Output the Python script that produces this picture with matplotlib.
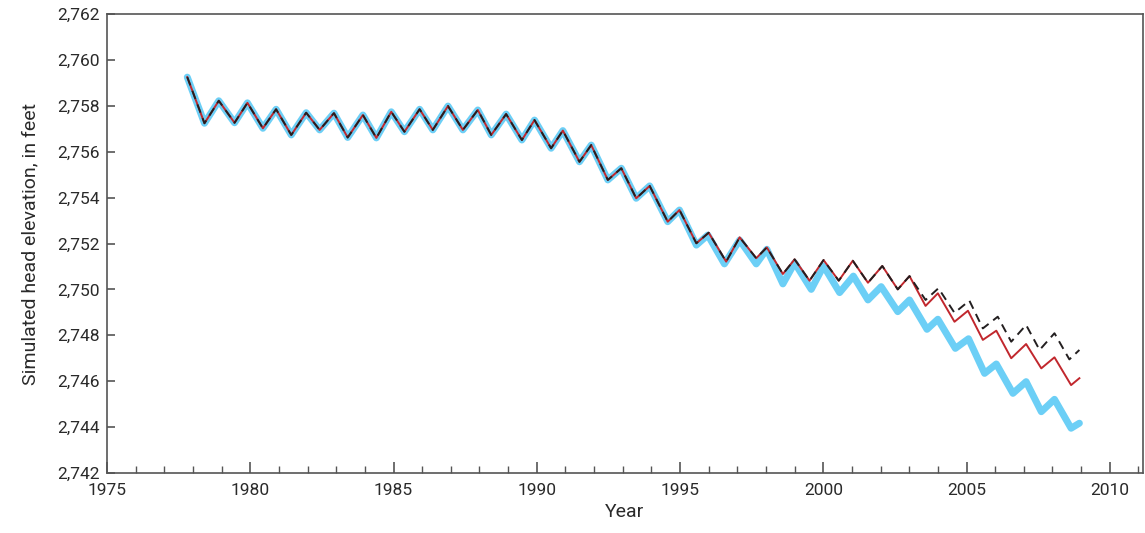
import numpy as np
import matplotlib.pyplot as plt
from matplotlib.ticker import FuncFormatter, MultipleLocator

# shared part of the three runs (curves overlap until about 1995.5)
early_years = [1977.80, 1978.40, 1978.90, 1979.45, 1979.90, 1980.44, 1980.90, 1981.43,
               1981.95, 1982.42, 1982.92, 1983.40, 1983.93, 1984.40, 1984.92, 1985.38,
               1985.91, 1986.37, 1986.90, 1987.42, 1987.94, 1988.41, 1988.93, 1989.48,
               1989.92, 1990.50, 1990.91, 1991.49, 1991.90, 1992.48, 1992.95, 1993.47,
               1993.94, 1994.57, 1994.98, 1995.57]
early_head = [2759.25, 2757.24, 2758.22, 2757.26, 2758.13, 2757.02, 2757.85, 2756.73,
              2757.70, 2756.95, 2757.68, 2756.62, 2757.60, 2756.60, 2757.74, 2756.87,
              2757.85, 2756.95, 2757.99, 2756.95, 2757.82, 2756.73, 2757.64, 2756.51,
              2757.38, 2756.15, 2756.92, 2755.56, 2756.29, 2754.77, 2755.28, 2753.97,
              2754.51, 2752.95, 2753.46, 2752.01]

# shared by red and black until 2003
mid_years = [1996.00, 1996.61, 1997.08, 1997.66, 1998.03, 1998.59, 1999.00, 1999.52,
             2000.01, 2000.54, 2001.03, 2001.56, 2002.06, 2002.60, 2003.01]
mid_head = [2752.47, 2751.21, 2752.27, 2751.36, 2751.83, 2750.67, 2751.31, 2750.38,
            2751.28, 2750.38, 2751.25, 2750.29, 2751.02, 2750.00, 2750.58]

black_years = [2003.57, 2004.02, 2004.58, 2005.10, 2005.57, 2006.09, 2006.56, 2007.08,
               2007.55, 2008.07, 2008.59, 2008.94]
black_head = [2749.54, 2750.05, 2748.98, 2749.51, 2748.30, 2748.81, 2747.72, 2748.45,
              2747.36, 2748.09, 2746.95, 2747.36]

red_years = [2003.57, 2004.00, 2004.58, 2005.05, 2005.57, 2006.04, 2006.56, 2007.08,
             2007.61, 2008.07, 2008.65, 2008.94]
red_head = [2749.28, 2749.83, 2748.59, 2749.07, 2747.80, 2748.20, 2747.00, 2747.62,
            2746.56, 2747.04, 2745.83, 2746.13]

blue_years = [1995.97, 1996.55, 1997.08, 1997.66, 1998.03, 1998.59, 1999.00, 1999.58,
              2000.01, 2000.57, 2001.05, 2001.56, 2002.02, 2002.60, 2003.01, 2003.62,
              2004.00, 2004.61, 2005.07, 2005.63, 2006.04, 2006.62, 2007.08, 2007.61,
              2008.07, 2008.65, 2008.94]
blue_head = [2752.37, 2751.11, 2752.15, 2751.11, 2751.75, 2750.24, 2751.16, 2750.00,
             2751.02, 2749.86, 2750.58, 2749.54, 2750.12, 2749.03, 2749.54, 2748.26,
             2748.70, 2747.43, 2747.85, 2746.34, 2746.75, 2745.47, 2745.98, 2744.67,
             2745.21, 2743.95, 2744.17]

plt.rcParams['font.family'] = ['Roboto', 'DejaVu Sans']

fig = plt.figure(figsize=(11.45, 5.33), dpi=100)
ax = fig.add_axes([0.0935, 0.1126, 0.9045, 0.8611])

blue_x = early_years[:-1] + [1995.57] + blue_years
blue_y = early_head[:-1] + [2751.93] + blue_head
red_x = early_years + mid_years + red_years
red_y = early_head + mid_head + red_head
black_x = early_years + mid_years + black_years
black_y = early_head + mid_head + black_head

ax.plot(blue_x, blue_y, color='#6ccff6', lw=5, solid_capstyle='round', solid_joinstyle='round')
ax.plot(red_x, red_y, color='#c1272d', lw=1.4, solid_joinstyle='round')
ax.plot(black_x, black_y, color='#231f20', lw=1.4, dashes=(4.5, 3))

ax.set_xlim(1975, 2011.15)
ax.set_ylim(2742, 2762)
ax.xaxis.set_major_locator(MultipleLocator(5))
ax.xaxis.set_minor_locator(MultipleLocator(1))
ax.yaxis.set_major_locator(MultipleLocator(2))
ax.yaxis.set_major_formatter(FuncFormatter(lambda v, p: f'{int(v):,}'))

for s in ax.spines.values():
    s.set_color('#555555')
    s.set_linewidth(1.2)
ax.tick_params(axis='both', which='both', direction='in', colors='#555555',
               labelcolor='#2a2a2a', labelsize=12.5)
ax.tick_params(axis='x', which='major', length=8, width=1.2, pad=7)
ax.tick_params(axis='x', which='minor', length=5, width=1)
ax.tick_params(axis='y', which='major', length=6, width=1.2, pad=5)

ax.set_xlabel('Year', fontsize=14, color='#2a2a2a', labelpad=4)
ax.set_ylabel('Simulated head elevation, in feet', fontsize=14, color='#2a2a2a', labelpad=13)

fig.savefig('out.png', dpi=100)
